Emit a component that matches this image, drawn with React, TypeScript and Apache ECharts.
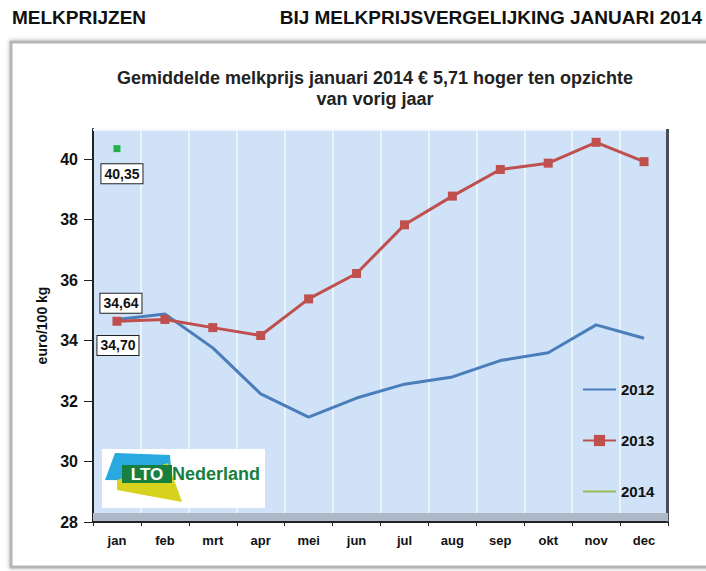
import React, { useEffect, useRef } from "react";
import * as echarts from "echarts";

const months = ["jan", "feb", "mrt", "apr", "mei", "jun", "jul", "aug", "sep", "okt", "nov", "dec"];
const prices2012 = [34.7, 34.88, 33.76, 32.24, 31.47, 32.1, 32.56, 32.8, 33.34, 33.6, 34.52, 34.08];
const prices2013 = [34.64, 34.7, 34.43, 34.17, 35.38, 36.22, 37.83, 38.78, 39.66, 39.87, 40.56, 39.92];
const prices2014 = [40.35, null, null, null, null, null, null, null, null, null, null, null];
const yTicks = [28, 30, 32, 34, 36, 38, 40];

const FONT = "'Liberation Sans', Arial, sans-serif";
const fmt = (v: number) => v.toFixed(2).replace(".", ",");

const boxLabel = (offset: [number, number]) => ({
  show: true,
  position: "inside",
  offset,
  formatter: (p: any) => fmt(p.value),
  color: "#111",
  fontFamily: FONT,
  fontWeight: "bold",
  fontSize: 14,
  backgroundColor: "#fff",
  borderColor: "#222",
  borderWidth: 1,
  padding: [3, 3, 2, 3],
});

const lineOnly = { itemStyle: { color: "rgba(0,0,0,0)", borderWidth: 0 } };

export default function App() {
  const ref = useRef<HTMLDivElement>(null);
  useEffect(() => {
    if (!ref.current) return;
    const chart = echarts.init(ref.current, undefined, { renderer: "svg" });
    chart.setOption({
      animation: false,
      backgroundColor: "#fff",
      textStyle: { fontFamily: FONT },
      grid: {
        left: 93,
        right: 38,
        top: 129,
        bottom: 49,
        show: true,
        backgroundColor: "#cfe2f8",
        borderWidth: 0,
      },
      graphic: [
        { type: "text", left: 12, top: 8, style: { text: "MELKPRIJZEN", font: `bold 19px ${FONT}`, fill: "#111" } },
        { type: "text", right: 4, top: 8, style: { text: "BIJ MELKPRIJSVERGELIJKING JANUARI 2014", font: `bold 19px ${FONT}`, fill: "#111" } },
        {
          type: "rect",
          z: -10,
          shape: { x: 11, y: 42, width: 700, height: 525 },
          style: { fill: "#fff", stroke: "#b5b5b5", lineWidth: 3, shadowBlur: 4, shadowColor: "rgba(0,0,0,0.3)" },
        },
        {
          type: "text",
          x: 375,
          y: 67,
          style: {
            text: "Gemiddelde melkprijs januari 2014 € 5,71 hoger ten opzichte\nvan vorig jaar",
            font: `bold 18px ${FONT}`,
            fill: "#222",
            align: "center",
            lineHeight: 21,
          },
        },
        // 3D frame pieces
        { type: "rect", z: 5, shape: { x: 93, y: 129, width: 575, height: 2 }, style: { fill: "#f2f7fd" } },
        { type: "rect", z: 5, shape: { x: 666, y: 129, width: 3, height: 393 }, style: { fill: "#4a4f57" } },
        { type: "rect", z: 5, shape: { x: 93, y: 513, width: 575, height: 8 }, style: { fill: "#aeb8c6" } },
        // logo
        { type: "rect", z: 20, shape: { x: 102, y: 449, width: 163, height: 59 }, style: { fill: "#fff" } },
        { type: "polygon", z: 21, shape: { points: [[115, 453], [170, 455], [172, 481], [105, 480]] }, style: { fill: "#2aa8e0" } },
        { type: "polygon", z: 21, shape: { points: [[117, 480], [168, 463], [182, 502], [117, 490]] }, style: { fill: "#d6d21e" } },
        { type: "rect", z: 22, shape: { x: 122, y: 465, width: 50, height: 18 }, style: { fill: "#178040" } },
        { type: "text", z: 23, x: 147, y: 474, style: { text: "LTO", font: `bold 17px ${FONT}`, fill: "#fff", align: "center", verticalAlign: "middle" } },
        { type: "text", z: 23, x: 172, y: 474, style: { text: "Nederland", font: `bold 18px ${FONT}`, fill: "#178040", verticalAlign: "middle" } },
      ],
      legend: {
        orient: "vertical",
        left: 577,
        top: 377,
        itemGap: 36,
        itemWidth: 33,
        itemHeight: 14,
        textStyle: { fontFamily: FONT, fontWeight: "bold", fontSize: 15, color: "#111" },
        data: [
          { name: "2012", ...lineOnly },
          { name: "2013" },
          { name: "2014", ...lineOnly, lineStyle: { color: "#9bbb59" } },
        ],
      },
      xAxis: {
        type: "category",
        data: months,
        boundaryGap: true,
        axisLine: { lineStyle: { color: "#222", width: 2 } },
        axisTick: { show: true, length: 4, lineStyle: { color: "#222" } },
        axisLabel: { color: "#111", fontWeight: "bold", fontSize: 13, margin: 12, fontFamily: FONT },
        splitLine: { show: true, lineStyle: { color: "#f4f8fd", width: 1.5 } },
      },
      yAxis: {
        type: "value",
        min: 28,
        max: 41,
        interval: 2,
        name: "euro/100 kg",
        nameLocation: "middle",
        nameGap: 40,
        nameTextStyle: { color: "#111", fontWeight: "bold", fontSize: 14, fontFamily: FONT },
        axisLine: { show: true, lineStyle: { color: "#222", width: 2 } },
        axisTick: { show: true, length: 9, lineStyle: { color: "#222" }, customValues: yTicks },
        axisLabel: { color: "#111", fontWeight: "bold", fontSize: 16, margin: 15, fontFamily: FONT, customValues: yTicks },
        splitLine: { show: false },
      },
      series: [
        {
          name: "2012",
          type: "line",
          data: prices2012,
          symbol: "none",
          color: "#4a7ebb",
          lineStyle: { width: 3, color: "#4a7ebb" },
          z: 3,
          emphasis: { disabled: true },
        },
        {
          name: "2013",
          type: "line",
          data: prices2013.map((v, i) => (i === 0 ? { value: v, label: boxLabel([4, -18]) } : v)),
          symbol: "rect",
          symbolSize: 9,
          color: "#c0504d",
          itemStyle: { color: "#c0504d" },
          lineStyle: { width: 3, color: "#c0504d" },
          z: 4,
          emphasis: { disabled: true },
        },
        {
          name: "2014",
          type: "line",
          data: prices2014.map((v, i) => (i === 0 ? { value: v, label: boxLabel([5, 25]) } : v)),
          symbol: "rect",
          symbolSize: 7,
          showAllSymbol: true,
          color: "#22b24c",
          itemStyle: { color: "#22b24c" },
          lineStyle: { width: 3, color: "#9bbb59" },
          z: 4,
          emphasis: { disabled: true },
        },
        {
          name: "2012 label",
          type: "line",
          data: prices2012.map((v, i) => (i === 0 ? { value: v, label: boxLabel([1, 26]) } : null)),
          symbol: "circle",
          symbolSize: 1,
          showAllSymbol: true,
          itemStyle: { color: "rgba(0,0,0,0)" },
          lineStyle: { width: 0 },
          z: 5,
          silent: true,
          emphasis: { disabled: true },
        },
      ],
    });
    return () => chart.dispose();
  }, []);
  return <div ref={ref} style={{ width: 706, height: 571, position: "absolute", left: 0, top: 0 }} />;
}
